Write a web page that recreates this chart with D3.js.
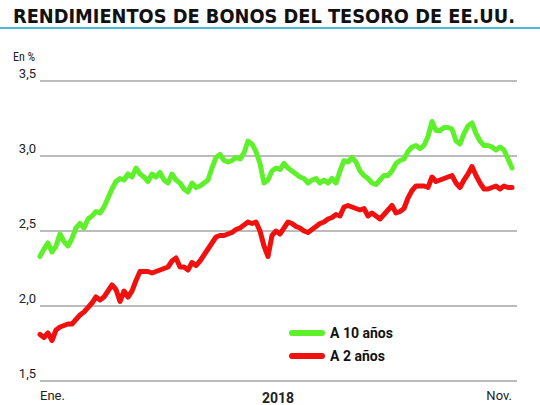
<!DOCTYPE html>
<html><head><meta charset="utf-8">
<script src="https://cdn.jsdelivr.net/npm/d3@7"></script>
<style>body{margin:0;background:#fff}</style>
</head><body><svg id="chart" width="540" height="405"></svg>
<script>
// weekly readings, Jan–Nov 2018 (%)
const bond10 = [2.33,2.38,2.42,2.36,2.40,2.48,2.43,2.40,2.45,2.52,2.55,2.52,2.58,2.60,2.63,2.62,2.66,2.72,2.78,2.83,
  2.85,2.84,2.88,2.86,2.92,2.88,2.86,2.83,2.88,2.86,2.89,2.84,2.82,2.88,2.84,2.82,2.78,2.76,2.82,2.79,
  2.80,2.82,2.84,2.92,2.99,3.01,2.97,2.96,2.97,2.99,2.98,3.02,3.10,3.08,3.03,2.95,2.82,2.84,2.90,2.92,
  2.91,2.95,2.92,2.90,2.88,2.86,2.85,2.82,2.84,2.85,2.82,2.84,2.82,2.85,2.82,2.90,2.97,2.96,2.99,2.96,
  2.90,2.87,2.85,2.82,2.81,2.84,2.87,2.87,2.90,2.95,2.97,2.98,3.03,3.06,3.07,3.05,3.07,3.13,3.23,3.17,
  3.17,3.19,3.19,3.18,3.10,3.08,3.15,3.20,3.22,3.15,3.10,3.07,3.07,3.06,3.04,3.06,3.04,2.98,2.92];
const bond2 = [1.81,1.79,1.82,1.77,1.84,1.86,1.87,1.88,1.88,1.91,1.94,1.96,1.99,2.02,2.06,2.04,2.06,2.10,2.14,2.11,
  2.03,2.10,2.06,2.10,2.17,2.23,2.23,2.23,2.22,2.23,2.24,2.25,2.26,2.30,2.32,2.26,2.26,2.24,2.29,2.27,
  2.30,2.34,2.38,2.42,2.46,2.47,2.47,2.48,2.49,2.51,2.52,2.54,2.56,2.55,2.56,2.50,2.40,2.33,2.47,2.50,
  2.48,2.52,2.56,2.55,2.53,2.52,2.50,2.49,2.51,2.53,2.55,2.56,2.58,2.59,2.61,2.60,2.66,2.67,2.66,2.65,
  2.64,2.65,2.60,2.62,2.60,2.58,2.61,2.64,2.67,2.62,2.63,2.65,2.72,2.77,2.80,2.80,2.80,2.79,2.86,2.83,
  2.84,2.85,2.86,2.87,2.82,2.79,2.84,2.88,2.93,2.87,2.82,2.78,2.78,2.79,2.80,2.78,2.80,2.79,2.79];
const yTicks = [1.5, 2.0, 2.5, 3.0, 3.5];
const series = [
  { name: "A 10 años", values: bond10, color: "#5ef02a" },
  { name: "A 2 años", values: bond2, color: "#f0100e" },
];

const svg = d3.select("#chart");
const x = d3.scaleLinear().domain([0, bond10.length - 1]).range([40, 512]);
const y = d3.scaleLinear().domain([1.5, 3.5]).range([381, 81]);

svg.append("text").attr("x", 13).attr("y", 23)
  .attr("font-family", "'DejaVu Sans Condensed', 'DejaVu Sans', sans-serif")
  .attr("font-weight", "bold").attr("font-size", 20)
  .attr("textLength", 502).attr("lengthAdjust", "spacingAndGlyphs")
  .attr("fill", "#111").text("RENDIMIENTOS DE BONOS DEL TESORO DE EE.UU.");
svg.append("rect").attr("x", 0).attr("y", 27).attr("width", 540).attr("height", 2).attr("fill", "#4fb9d8");

svg.append("text").attr("x", 13).attr("y", 61)
  .attr("font-family", "'Roboto Condensed', Roboto, sans-serif").attr("font-size", 12)
  .attr("fill", "#222").text("En %");

const grid = svg.append("g");
grid.selectAll("line").data(yTicks).join("line")
  .attr("x1", 40).attr("x2", 517)
  .attr("y1", d => y(d)).attr("y2", d => y(d))
  .attr("stroke", "#555").attr("stroke-width", 0.8);
grid.selectAll("text").data(yTicks).join("text")
  .attr("x", 36).attr("y", d => y(d) - 3).attr("text-anchor", "end")
  .attr("font-family", "Roboto, sans-serif").attr("font-size", 13).attr("fill", "#222")
  .text(d => d3.format(".1f")(d).replace(".", ","));

const line = d3.line().x((d, i) => x(i)).y(d => y(d)).curve(d3.curveLinear);
svg.append("g").selectAll("path").data(series).join("path")
  .attr("d", d => line(d.values)).attr("fill", "none")
  .attr("stroke", d => d.color).attr("stroke-width", 5)
  .attr("stroke-linejoin", "round").attr("stroke-linecap", "round");

const legend = svg.append("g").selectAll("g").data(series).join("g")
  .attr("transform", (d, i) => `translate(292,${333 + i * 23})`);
legend.append("line").attr("x1", 0).attr("x2", 30)
  .attr("stroke", d => d.color).attr("stroke-width", 6).attr("stroke-linecap", "round");
legend.append("text").attr("x", 38).attr("y", 5)
  .attr("font-family", "Roboto, sans-serif").attr("font-weight", "bold").attr("font-size", 14)
  .attr("fill", "#111").text(d => d.name);

const ax = svg.append("g").attr("font-family", "Roboto, sans-serif").attr("fill", "#222");
ax.append("text").attr("x", 40).attr("y", 400).attr("font-size", 13).text("Ene.");
ax.append("text").attr("x", 512).attr("y", 400).attr("text-anchor", "end").attr("font-size", 13).text("Nov.");
ax.append("text").attr("x", 278).attr("y", 403).attr("text-anchor", "middle").attr("font-size", 14)
  .attr("font-weight", "bold").text("2018");
</script></body></html>
